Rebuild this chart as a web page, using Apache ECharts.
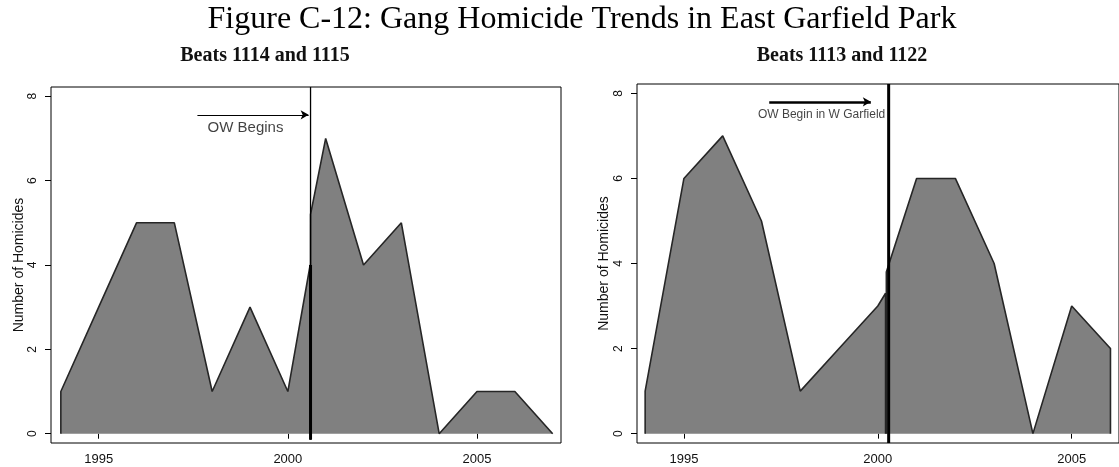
<!DOCTYPE html>
<html>
<head>
<meta charset="utf-8">
<title>Gang Homicide Trends in East Garfield Park</title>
<script src="https://cdn.jsdelivr.net/npm/echarts@6/dist/echarts.min.js"></script>
<style>
  html, body { margin: 0; padding: 0; background: #fff; }
  #chart { width: 1119px; height: 467px; }
</style>
</head>
<body>
<div id="chart"></div>
<script>
// Beats 1114 and 1115 (left panel), before / after the OW line
const leftPreYears = [1994, 1995, 1996, 1997, 1998, 1999, 2000, 2000.59]
const leftPreCounts = [1, 3, 5, 5, 1, 3, 1, 4]
const leftPostYears = [2000.6, 2001, 2002, 2003, 2004, 2005, 2006, 2007]
const leftPostCounts = [5.2, 7, 4, 5, 0, 1, 1, 0]

// Beats 1113 and 1122 (right panel)
const rightPreYears = [1994, 1995, 1996, 1997, 1998, 1999, 2000, 2000.2]
const rightPreCounts = [1, 6, 7, 5, 1, 2, 3, 3.3]
const rightPostYears = [2000.22, 2001, 2002, 2003, 2004, 2005, 2006]
const rightPostCounts = [3.8, 6, 6, 4, 0, 3, 2]

// OW start markers
const leftOwYear = 2000.6
const rightOwYear = 2000.28
const leftArrow = [[1997.61, 7.56], [2000.55, 7.56]]
const rightArrow = [[1997.2, 7.8], [1999.82, 7.8]]

// tick labels
const yearTicks = [1995, 2000, 2005]
const countTicks = [0, 2, 4, 6, 8]

const sans = '"Liberation Sans", Arial, sans-serif'
const serif = '"Liberation Serif", "Times New Roman", serif'

// polygon closed down to zero at both ends
function polygon(years, counts) {
  let pts = years.map((y, i) => [y, counts[i]])
  return [[years[0], 0], ...pts, [years[years.length - 1], 0]]
}

function xAxisFor(idx, min, max) {
  return {
    type: 'value', gridIndex: idx, min: min, max: max,
    axisLine: { show: false },
    axisTick: { show: true, customValues: yearTicks, length: 5, lineStyle: { color: '#000' } },
    axisLabel: {
      customValues: yearTicks, margin: 10, fontSize: 13, fontFamily: sans, color: '#111',
      formatter: (v) => String(v),
    },
    splitLine: { show: false },
  }
}

function yAxisFor(idx, gap) {
  return {
    type: 'value', gridIndex: idx, min: -0.22, max: 8.22,
    name: 'Number of Homicides', nameLocation: 'middle', nameGap: gap, nameRotate: 90,
    nameMoveOverlap: false,
    nameTextStyle: { fontSize: 14, fontFamily: sans, color: '#111' },
    axisLine: { show: false },
    axisTick: { show: true, customValues: countTicks, length: 6, lineStyle: { color: '#000' } },
    axisLabel: {
      customValues: countTicks, rotate: 90, margin: 12, fontSize: 12, fontFamily: sans, color: '#111',
      formatter: (v) => String(v),
    },
    splitLine: { show: false },
  }
}

function areaSeries(idx, data) {
  return {
    type: 'line', xAxisIndex: idx, yAxisIndex: idx, data: data,
    showSymbol: false, silent: true, animation: false,
    lineStyle: { color: '#262626', width: 1.6 },
    areaStyle: { color: '#808080', opacity: 1 },
    z: 2,
  }
}

function segment(idx, pts, width) {
  return {
    type: 'line', xAxisIndex: idx, yAxisIndex: idx, data: pts,
    showSymbol: false, silent: true, animation: false,
    lineStyle: { color: '#000', width: width }, z: 4,
  }
}

function arrowSeries(idx, pts, width, text, textPos, fontSize) {
  return {
    type: 'scatter', xAxisIndex: idx, yAxisIndex: idx,
    data: [textPos], symbolSize: 0, silent: true, animation: false,
    label: { show: true, position: 'inside', formatter: text, fontSize: fontSize, fontFamily: sans, color: '#111' },
    markLine: {
      silent: true, animation: false,
      symbol: ['none', 'arrow'], symbolSize: [7, 8],
      label: { show: false },
      lineStyle: { color: '#000', width: width, type: 'solid' },
      data: [[{ coord: pts[0] }, { coord: pts[1] }]],
    },
    z: 5,
  }
}

let chart = echarts.init(document.getElementById('chart'))

chart.setOption({
  backgroundColor: '#fff',
  animation: false,
  graphic: [
    { type: 'text', x: 582, y: 20, style: { text: 'Figure C-12: Gang Homicide Trends in East Garfield Park', font: '32px ' + serif, fill: '#000', align: 'center', verticalAlign: 'middle' } },
    { type: 'text', x: 265, y: 56, style: { text: 'Beats 1114 and 1115', font: 'bold 20px ' + serif, fill: '#111', align: 'center', verticalAlign: 'middle' } },
    { type: 'text', x: 842, y: 56, style: { text: 'Beats 1113 and 1122', font: 'bold 20px ' + serif, fill: '#111', align: 'center', verticalAlign: 'middle' } },
  ],
  grid: [
    { left: 51, right: 558, top: 87, bottom: 24, show: true, borderColor: '#000', borderWidth: 1, containLabel: false },
    { left: 637, right: -6, top: 84, bottom: 24, show: true, borderColor: '#000', borderWidth: 1, containLabel: false },
  ],
  xAxis: [
    xAxisFor(0, 1993.74, 2007.22),
    xAxisFor(1, 1993.79, 2006.22),
  ],
  yAxis: [
    yAxisFor(0, 25),
    yAxisFor(1, 26),
  ],
  series: [
    areaSeries(0, polygon(leftPreYears, leftPreCounts)),
    areaSeries(0, polygon(leftPostYears, leftPostCounts)),
    segment(0, [[leftOwYear, -0.14], [leftOwYear, 8.22]], 1.3),
    segment(0, [[leftOwYear, -0.14], [leftOwYear, 4]], 3),
    arrowSeries(0, leftArrow, 1, 'OW Begins', [1998.88, 7.24], 15),

    areaSeries(1, polygon(rightPreYears, rightPreCounts)),
    areaSeries(1, polygon(rightPostYears, rightPostCounts)),
    segment(1, [[rightOwYear, -0.22], [rightOwYear, 8.22]], 3),
    arrowSeries(1, rightArrow, 2.5, 'OW Begin in W Garfield', [1998.55, 7.5], 12),
  ],
})
</script>
</body>
</html>
